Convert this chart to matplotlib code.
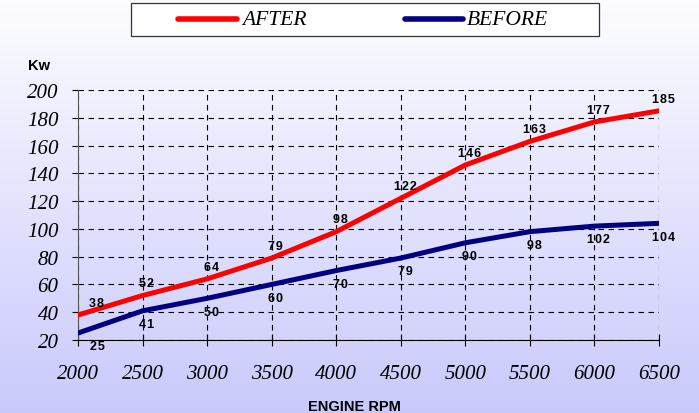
import numpy as np
import matplotlib.pyplot as plt
from matplotlib.lines import Line2D
from matplotlib.patches import Rectangle

# engine speed and power readings
rpm = [2000, 2500, 3000, 3500, 4000, 4500, 5000, 5500, 6000, 6500]
kw_after = [38, 52, 64, 79, 98, 122, 146, 163, 177, 185]
kw_before = [25, 41, 50, 60, 70, 79, 90, 98, 102, 104]
y_ticks = [20, 40, 60, 80, 100, 120, 140, 160, 180, 200]
series_names = ['AFTER', 'BEFORE']
series_colors = ['#ff0000', '#000080']

serif = ['Liberation Serif', 'DejaVu Serif']
sans = ['Liberation Sans', 'DejaVu Sans']

W, H = 699, 414
fig = plt.figure(figsize=(W / 100, H / 100), dpi=100)

# background gradient, white at top to lavender at bottom
bg = fig.add_axes([0, 0, 1, 1], zorder=-10)
grad = np.linspace(0, 1, 256).reshape(-1, 1)
top = np.array([0.99, 0.99, 1.0])
bot = np.array([0.79, 0.79, 0.99])
img = top + (bot - top) * grad[..., None]
bg.imshow(img, aspect='auto', extent=[0, 1, 0, 1])
bg.axis('off')

ax = fig.add_axes([78 / W, 1 - 341 / H, 581 / W, 250 / H])
ax.patch.set_alpha(0)

for vals, col in zip([kw_after, kw_before], series_colors):
    ax.plot(rpm, vals, color=col, lw=3.6, solid_capstyle='round', zorder=3)


def spaced(v):
    # the original labels have loose letter spacing
    return '\u200a'.join(str(v))


for i, (x, v) in enumerate(zip(rpm, kw_after)):
    dx = 13 if i == 0 else 3
    ax.annotate(spaced(v), (x, v), xytext=(dx, 8.8), textcoords='offset points',
                ha='center', va='center', fontsize=9, fontweight='bold',
                family=sans, zorder=4)
for i, (x, v) in enumerate(zip(rpm, kw_before)):
    dx = 14 if i == 0 else 3
    ax.annotate(spaced(v), (x, v), xytext=(dx, -9.5), textcoords='offset points',
                ha='center', va='center', fontsize=9, fontweight='bold',
                family=sans, zorder=4)

ax.set_xlim(2000, 6500)
ax.set_ylim(20, 200)
ax.set_xticks(rpm)
ax.set_yticks(y_ticks)
ax.grid(True, color='black', linestyle=(0, (5, 4)), linewidth=0.8)
ax.set_axisbelow(True)

for s in ['top', 'right']:
    ax.spines[s].set_visible(False)
ax.spines['left'].set_color('#555555')
ax.spines['bottom'].set_color('black')

ax.tick_params(axis='x', direction='inout', length=8, width=0.8, pad=13)
ax.tick_params(axis='y', direction='out', length=4, width=0.8, pad=10)
for lab in ax.get_xticklabels() + ax.get_yticklabels():
    lab.set_family(serif)
    lab.set_style('italic')
    lab.set_fontsize(15)

fig.text(39 / W, 1 - 66 / H, 'Kw', fontsize=10.5, fontweight='bold', family=sans,
         ha='center', va='center')
fig.text(354.5 / W, 1 - 407 / H, 'ENGINE RPM', fontsize=10.5, fontweight='bold',
         family=sans, ha='center', va='center')

# legend box drawn by hand to get the wide layout of the original
fig.add_artist(Rectangle((131 / W, 1 - 37 / H), 468 / W, 33 / H,
                         transform=fig.transFigure, facecolor='white',
                         edgecolor='#333333', lw=0.9))
line_x = [(178, 237), (405, 463)]
text_x = [242, 467]
for name, col, (x0, x1), tx in zip(series_names, series_colors, line_x, text_x):
    fig.add_artist(Line2D([x0 / W, x1 / W], [1 - 20 / H, 1 - 20 / H],
                          transform=fig.transFigure, color=col, lw=4,
                          solid_capstyle='round'))
    fig.text(tx / W, 1 - 20.5 / H, name, family=serif, style='italic',
             fontsize=15.5, ha='left', va='center')

fig.savefig('out.png', dpi=100)
